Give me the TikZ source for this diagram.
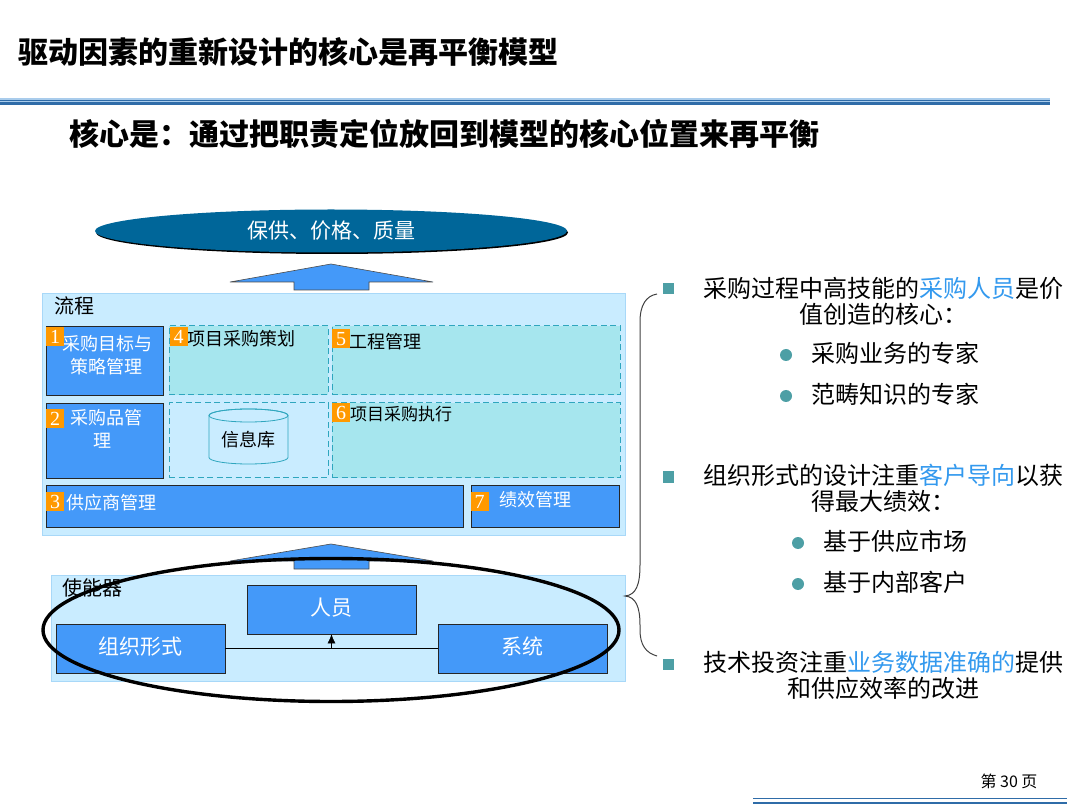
\documentclass[tikz,border=0pt]{standalone}
\usepackage{fontspec}
\setmainfont{Noto Sans CJK SC}
\newfontfamily\digitfont{Liberation Serif}
\usetikzlibrary{shapes,arrows,arrows.meta,shadows}
\definecolor{panelblue}{HTML}{C9ECFF}
\definecolor{paneledge}{HTML}{A8D8F8}
\definecolor{boxblue}{HTML}{4499F9}
\definecolor{dashfill}{HTML}{A6E6EE}
\definecolor{dashedge}{HTML}{2FA6BE}
\definecolor{badgeorange}{HTML}{FF9900}
\definecolor{ovalblue}{HTML}{006699}
\definecolor{ruleblue}{HTML}{2F6CA8}
\definecolor{rulepale}{HTML}{A9CCEC}
\definecolor{dotteal}{HTML}{4D9FA5}
\definecolor{hlblue}{HTML}{3399EE}
\newcommand{\wcolon}{\char"FF1A\relax}

\begin{document}
\begin{tikzpicture}[x=1pt,y=-1pt,>=latex']
	%define block styles
	\tikzset{
		headline/.style={font=\fontsize{30}{34}\selectfont\bfseries, inner sep=0pt, anchor=west},
		panel/.style={rectangle, draw=paneledge, fill=panelblue, inner sep=0pt},
		bluebox/.style={rectangle, draw=black!85, line width=0.8pt, fill=boxblue, text=white, inner sep=0pt, align=center, font=\fontsize{18}{23}\selectfont},
		dashbox/.style={rectangle, draw=dashedge, line width=1pt, dash pattern=on 6pt off 3.5pt, fill=dashfill, inner sep=0pt},
		badge/.style={rectangle, fill=badgeorange, text=white, inner sep=0pt, minimum width=18pt, minimum height=19pt, font=\fontsize{20}{20}\selectfont\digitfont},
		smalltext/.style={font=\fontsize{18}{22}\selectfont, inner sep=0pt, anchor=west},
		bigbox/.style={bluebox, minimum width=169pt, minimum height=49pt, font=\fontsize{21}{25}\selectfont},
		maintext/.style={font=\fontsize{24}{26}\selectfont, inner sep=0pt, align=center},
		subtext/.style={font=\fontsize{24}{26}\selectfont, inner sep=0pt, anchor=west},
		squaredot/.style={rectangle, fill=dotteal, inner sep=0pt, minimum size=11pt},
		rounddot/.style={circle, fill=dotteal, inner sep=0pt, minimum size=12pt},
		blockarrow/.style={fill=boxblue, draw=black!70, line width=0.6pt},
	}
	\useasboundingbox (0,0) rectangle (1080,810);
	%title and rules
	\node[headline] (title) at (18,52) {驱动因素的重新设计的核心是再平衡模型};
	\node[headline] (subtitle) at (69,134) {核心是\wcolon 通过把职责定位放回到模型的核心位置来再平衡};
	\fill[rulepale] (0,98.3) rectangle (1050,100);
	\fill[ruleblue] (0,100) rectangle (1050,101);
	\fill[rulepale] (0,101) rectangle (1050,102);
	\fill[ruleblue] (0,102) rectangle (1050,105);
	%top oval and arrows
	\node[ellipse, fill=ovalblue, text=white, minimum width=472pt, minimum height=43pt, inner sep=0pt, font=\fontsize{21}{25}\selectfont, drop shadow={shadow xshift=1pt, shadow yshift=-1.5pt, fill=black, opacity=1}] (goal) at (331,231) {保供、价格、质量};
	\draw[blockarrow] (331,264) -- (433,282) -- (369,282) -- (369,290) -- (294,290) -- (294,282) -- (230,282) -- cycle;
	\draw[blockarrow] (331,544) -- (433,561) -- (369,561) -- (369,569) -- (294,569) -- (294,561) -- (230,561) -- cycle;
	%define panels
	\node[panel, minimum width=583pt, minimum height=242pt] (process) at (333.5,414) {};
	\node[panel, minimum width=574pt, minimum height=106pt] (enabler) at (338,628) {};
	\node[font=\fontsize{20}{24}\selectfont, inner sep=0pt] (processtext) at (74,306) {流程};
	\node[font=\fontsize{20}{24}\selectfont, inner sep=0pt] (enablertext) at (92,588) {使能器};
	%define process boxes
	\node[bluebox, minimum width=117pt, minimum height=69pt] (target) at (104.5,360.5) {};
	\node[bluebox, minimum width=117pt, minimum height=75pt] (category) at (104.5,440.5) {};
	\node[bluebox, minimum width=417pt, minimum height=42pt] (supplier) at (254.5,506) {};
	\node[bluebox, minimum width=148pt, minimum height=42pt] (perform) at (545,506) {};
	\node[dashbox, minimum width=159pt, minimum height=69pt] (plan) at (248.5,360.5) {};
	\node[dashbox, minimum width=288pt, minimum height=69pt] (project) at (476,360.5) {};
	\node[dashbox, fill=panelblue, minimum width=159pt, minimum height=75pt] (infoarea) at (248.5,440.5) {};
	\node[dashbox, minimum width=288pt, minimum height=75pt] (execute) at (476,440.5) {};
	\draw[draw=dashedge, line width=0.8pt, fill=panelblue] (209,415.5) -- (209,457.5) arc[start angle=180, end angle=360, x radius=39.5pt, y radius=6.5pt] -- (288,415.5) arc[start angle=0, end angle=180, x radius=39.5pt, y radius=6.5pt];
	\draw[draw=dashedge, line width=0.8pt] (248.5,415.5) ellipse [x radius=39.5pt, y radius=6.5pt];
	\node[font=\fontsize{18}{22}\selectfont, inner sep=0pt] (storetext) at (248,440) {信息库};
	%define box texts
	\node[smalltext, text=white, anchor=center, align=center, font=\fontsize{18}{23}\selectfont] (targettext) at (107,355) {采购目标与\\策略管理};
	\node[smalltext, text=white, anchor=center, align=center, font=\fontsize{18}{23}\selectfont] (categorytext) at (102,429) {\ \ 采购品管\\理};
	\node[smalltext, text=white] (suppliertext) at (66,503) {供应商管理};
	\node[smalltext, text=white] (performtext) at (499,500) {绩效管理};
	\node[smalltext] (plantext) at (187,339) {项目采购策划};
	\node[smalltext] (projecttext) at (349,342) {工程管理};
	\node[smalltext, font=\fontsize{17}{22}\selectfont] (executetext) at (350,414) {项目采购执行};
	%define badges
	\node[badge] (badgeone) at (55,336.5) {1};
	\node[badge] (badgetwo) at (55,418.5) {2};
	\node[badge] (badgethree) at (55,501.5) {3};
	\node[badge] (badgefour) at (178.5,336.5) {4};
	\node[badge] (badgefive) at (341,339) {5};
	\node[badge] (badgesix) at (341,412.5) {6};
	\node[badge] (badgeseven) at (479.5,501.5) {7};
	%define enabler boxes
	\node[bigbox] (people) at (331.5,609.5) {\raisebox{5pt}{人员}};
	\node[bigbox] (org) at (140.5,648.5) {\raisebox{5pt}{组织形式}};
	\node[bigbox] (sys) at (522.5,648.5) {\raisebox{5pt}{系统}};
	%define arrows
	\draw (org) -- (sys);
	\draw[-{Latex[length=9pt,width=8pt]}] (people |- org) -- (people);
	%big ring and brace
	\node[ellipse, draw=black, line width=3.4pt, minimum width=576pt, minimum height=143pt, inner sep=0pt] (ring) at (331,630) {};
	\draw[black!75, line width=1pt] (657,294) .. controls (646,296) and (640,305) .. (640,322) -- (640,565) .. controls (640,585) and (636,595) .. (625,596) .. controls (636,597) and (640,607) .. (640,625) -- (640,630) .. controls (640,645) and (646,653) .. (657,656);
	%define right hand text
	\node[squaredot] (markone) at (668,289) {};
	\node[maintext] (lineone) at (883.5,301) {采购过程中高技能的\textcolor{hlblue}{采购人员}是价\\值创造的核心\wcolon};
	\node[rounddot] (dotone) at (786,355) {};
	\node[subtext] (subone) at (811,353) {采购业务的专家};
	\node[rounddot] (dottwo) at (786,396) {};
	\node[subtext] (subtwo) at (811,394) {范畴知识的专家};
	\node[squaredot] (marktwo) at (668,477) {};
	\node[maintext] (linetwo) at (883.5,488.5) {组织形式的设计注重\textcolor{hlblue}{客户导向}以获\\得最大绩效\wcolon};
	\node[rounddot] (dotthree) at (798,543) {};
	\node[subtext] (subthree) at (823,541) {基于供应市场};
	\node[rounddot] (dotfour) at (798,584) {};
	\node[subtext] (subfour) at (823,582) {基于内部客户};
	\node[squaredot] (markthree) at (668,664) {};
	\node[maintext] (linethree) at (883.5,675.5) {技术投资注重\textcolor{hlblue}{业务数据准确的}提供\\和供应效率的改进};
	%page number and footer
	\node[font=\fontsize{16}{20}\selectfont, inner sep=0pt] (pagenum) at (1009,781) {第 30 页};
	\fill[ruleblue] (753,797.5) rectangle (1067,799);
	\fill[ruleblue] (753,802) rectangle (1067,804);
\end{tikzpicture}
\end{document}
